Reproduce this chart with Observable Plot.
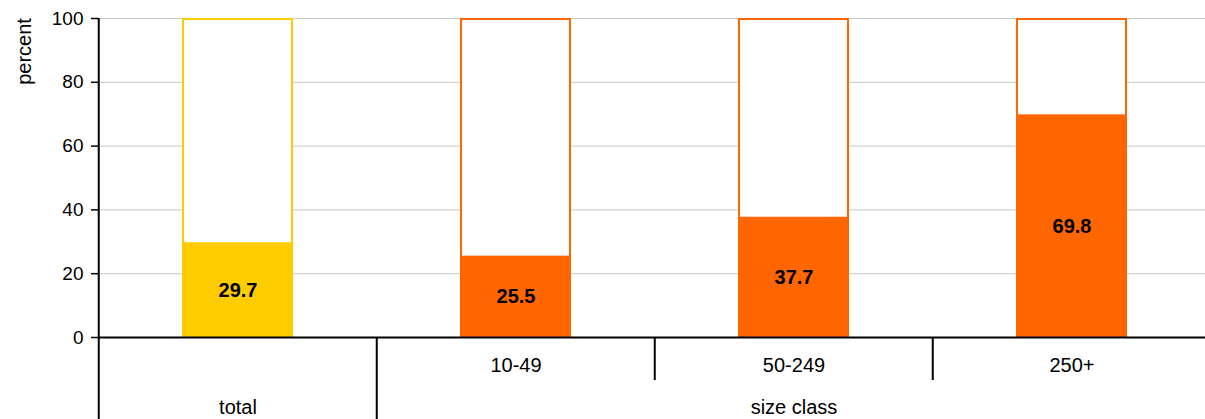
<!DOCTYPE html>
<html>
<head>
<meta charset="utf-8">
<script src="https://cdn.jsdelivr.net/npm/d3@7"></script>
<script src="https://cdn.jsdelivr.net/npm/@observablehq/plot@0.6"></script>
<style>
html, body { margin: 0; padding: 0; overflow: hidden; background: #fff; }
</style>
</head>
<body>
<div id="chart"></div>
<script>
const categories = ["total", "10-49", "50-249", "250+"];
const values = [29.7, 25.5, 37.7, 69.8];
const colors = ["#FFCC00", "#FF6600", "#FF6600", "#FF6600"];
const groups = [{label: "total", at: "total"}, {label: "size class", at: "50-249"}];
const yTicks = [0, 20, 40, 60, 80, 100];

const data = categories.map((c, i) => ({cat: c, value: values[i], color: colors[i]}));

const W = 1212, ML = 98, MR = 0, MT = 18, MB = 82, H = 419;
const step = (W - ML - MR) / categories.length;
const pxPerUnit = (H - MT - MB) / 100;
const below = px => -px / pxPerUnit; // data units below zero

const font = "Liberation Sans, Arial, sans-serif";

const chart = Plot.plot({
  width: W,
  height: H,
  marginLeft: ML,
  marginRight: MR,
  marginTop: MT,
  marginBottom: MB,
  style: {fontFamily: font, fontSize: "20px", color: "#000", background: "#fff", overflow: "visible", maxWidth: "none"},
  x: {domain: categories, paddingInner: 0.6, paddingOuter: 0.3, axis: null},
  y: {domain: [0, 100], ticks: yTicks, axis: null},
  color: {type: "identity"},
  marks: [
    Plot.gridY(yTicks.filter(d => d > 0), {stroke: "#c8c8c8", strokeOpacity: 1, strokeWidth: 1}),
    Plot.axisY({ticks: yTicks, tickSize: 7, tickPadding: 8, fontSize: 19, label: null, stroke: "#000", strokeWidth: 1.5}),
    Plot.text(["percent"], {frameAnchor: "top-left", rotate: -90, textAnchor: "middle", dx: -82, dy: 33, fontSize: 20}),
    Plot.barY(data, {x: "cat", y1: 0, y2: 100, fill: "#fff", stroke: "color", strokeWidth: 2, insetLeft: 1, insetRight: 1, insetTop: 1}),
    Plot.barY(data, {x: "cat", y1: 0, y2: "value", fill: "color"}),
    Plot.text(data, {x: "cat", y: d => d.value / 2, text: d => d.value.toFixed(1), fontWeight: "bold", fontSize: 20, fill: "#000"}),
    Plot.ruleY([0], {stroke: "#000", strokeWidth: 2}),
    // left axis line extending into label area
    Plot.ruleX(["total"], {x: d => d, y1: 100, y2: below(MB), dx: -step / 2, stroke: "#000", strokeWidth: 2}),
    // group separator
    Plot.ruleX(["10-49"], {x: d => d, y1: 0, y2: below(MB), dx: -step / 2, stroke: "#000", strokeWidth: 2}),
    // category separators
    Plot.ruleX(["50-249", "250+"], {x: d => d, y1: 0, y2: below(43), dx: -step / 2, stroke: "#000", strokeWidth: 2}),
    Plot.text(categories.slice(1), {x: d => d, y: below(28), fontSize: 20, fill: "#000"}),
    Plot.text(groups, {x: "at", y: below(70), text: "label", fontSize: 20, fill: "#000"})
  ]
});
document.getElementById("chart").appendChild(chart);
</script>
</body>
</html>
